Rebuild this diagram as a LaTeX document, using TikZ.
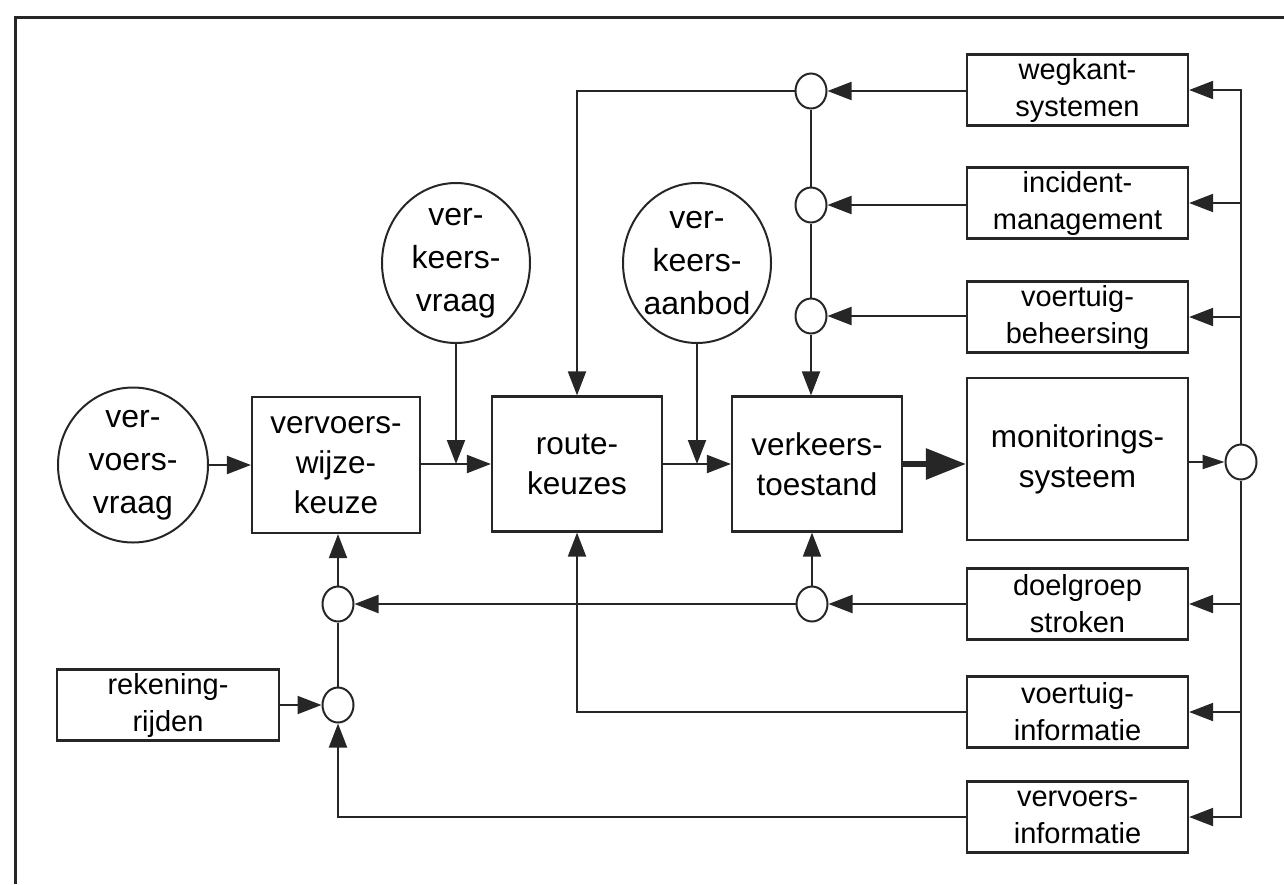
\documentclass[tikz,border=0pt]{standalone}
\usepackage{fontspec}
\setmainfont{Liberation Sans}
\usetikzlibrary{arrows.meta,shapes.geometric,calc}
\begin{document}
\begin{tikzpicture}[x=1pt,y=-1pt,
  ln/.style={line width=2pt, draw=black!85},
  arr/.style={ln,-{Triangle[length=24pt,width=18pt]}},
  sarr/.style={ln,-{Triangle[length=22pt,width=14pt]}},
  tarr/.style={draw=black!85,line width=6pt,-{Triangle[length=40pt,width=30pt]}},
  box/.style={draw=black!85,line width=2.2pt,inner sep=0pt,align=center,font=\fontsize{31.5}{40}\selectfont},
  sbox/.style={box,minimum width=221pt,minimum height=71pt,font=\fontsize{29}{37}\selectfont},
  oval/.style={ellipse,draw=black!85,line width=2pt,inner sep=0pt},
  otext/.style={inner sep=0pt,align=center,font=\fontsize{32}{43}\selectfont},
  junc/.style={ellipse,draw=black!85,line width=2pt,minimum width=31pt,minimum height=35pt,inner sep=0pt},
]
\useasboundingbox (0,0) rectangle (1284,884);
% frame
\draw[line width=3pt,draw=black!85] (15,884) -- (15,17) -- (1284,17);

% ovals
\node[oval,minimum width=150pt,minimum height=155pt] (vv) at (133,465) {};
\node[otext] (vvt) at (vv) {ver-\\voers-\\vraag};
\node[oval,minimum width=148pt,minimum height=160pt] (kv) at (456,263) {};
\node[otext] (kvt) at (kv) {ver-\\keers-\\vraag};
\node[oval,minimum width=148pt,minimum height=160pt] (ka) at (697,263) {};
\node[otext] (kat) at (ka) {ver-\\keers-\\aanbod};

% main boxes
\node[box,minimum width=168pt,minimum height=136pt] (vwk) at (336,465) {vervoers-\\wijze-\\keuze};
\node[box,minimum width=170pt,minimum height=135pt] (rk) at (577,464) {route-\\keuzes};
\node[box,minimum width=170pt,minimum height=135pt] (vt) at (817,464) {verkeers-\\toestand};
\node[box,minimum width=221pt,minimum height=162pt] (mon) at (1077.5,459) {monitorings-\\systeem};

% right column boxes
\node[sbox] (wk) at (1077.5,90) {wegkant-\\systemen};
\node[sbox] (ic) at (1077.5,203) {incident-\\management};
\node[sbox] (vb) at (1077.5,317) {voertuig-\\beheersing};
\node[sbox] (dg) at (1077.5,604) {doelgroep\\stroken};
\node[sbox] (vi) at (1077.5,712) {voertuig-\\informatie};
\node[sbox] (ve) at (1077.5,817) {vervoers-\\informatie};
\node[sbox,minimum width=222pt] (rek) at (168,705) {rekening-\\rijden};

% junctions
\node[junc] (s1) at (811,91) {};
\node[junc] (s2) at (811,205) {};
\node[junc] (s3) at (811,316) {};
\node[junc] (sv) at (812,604) {};
\node[junc] (ca) at (338,604) {};
\node[junc] (cb) at (338,705) {};
\node[junc] (sb) at (1241,462) {};

% main flow
\draw[arr] (vv.east |- vwk.west) -- (vwk.west);
\draw[arr] (vwk.east |- rk.west) -- (rk.west);
\draw[arr] (kv.south) -- (kv.south |- rk.west);
\draw[arr] (rk.east) -- (vt.west);
\draw[arr] (ka.south) -- (ka.south |- vt.west);
\draw[tarr] (vt.east) -- (vt.east -| mon.west);
\draw[sarr] (mon.east |- sb) -- (sb.west);

% bus to right boxes
\draw[arr] (sb.north) |- (wk.east);
\draw[arr] (sb |- ic.east) -- (ic.east);
\draw[arr] (sb |- vb.east) -- (vb.east);
\draw[arr] (sb.south) |- (ve.east);
\draw[arr] (sb |- dg.east) -- (dg.east);
\draw[arr] (sb |- vi.east) -- (vi.east);

% upper junction chain
\draw[arr] (wk.west |- s1) -- (s1.east);
\draw[arr] (ic.west |- s2) -- (s2.east);
\draw[arr] (vb.west |- s3) -- (s3.east);
\draw[ln] (s1.south) -- (s2.north);
\draw[ln] (s2.south) -- (s3.north);
\draw[arr] (s3.south) -- (s3.south |- vt.north);
\draw[arr] (s1.west) -| (rk.north);

% lower feedback
\draw[arr] (vi.west) -| (rk.south);
\draw[arr] (dg.west) -- (sv.east);
\draw[arr] (sv.west) -- (ca.east);
\draw[arr] (sv.north) -- (sv.north |- vt.south);
\draw[arr] (ca.north) -- (ca.north |- vwk.south);
\draw[ln] (cb.north) -- (ca.south);
\draw[arr] (rek.east) -- (cb.west);
\draw[arr] (ve.west) -| (cb.south);
\end{tikzpicture}
\end{document}
